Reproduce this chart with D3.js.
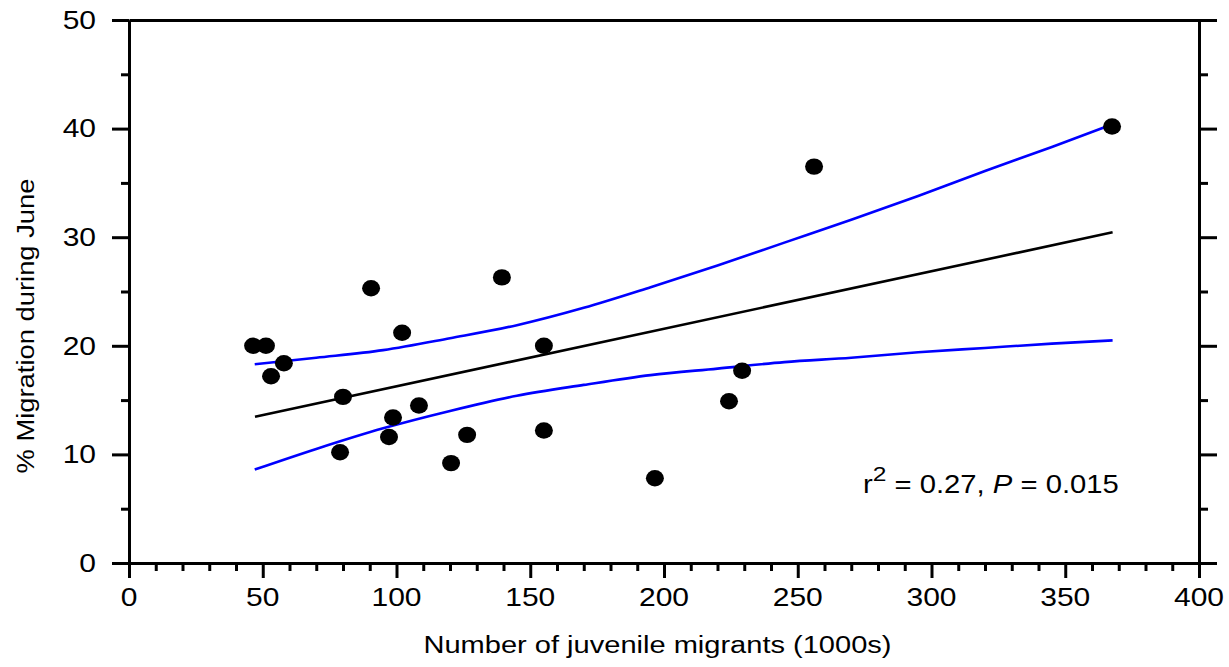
<!DOCTYPE html>
<html><head><meta charset="utf-8">
<script src="https://cdn.jsdelivr.net/npm/d3@7"></script>
<style>
body{margin:0;background:#fff;}
svg{display:block;}
text{font-family:"Liberation Sans",Arial,sans-serif;fill:#000;}
</style>
</head><body>
<svg id="c" width="1229" height="667"></svg>
<script>
// ---- data ----
const migrants = [46.4,51.2,53.1,57.9,78.9,80.0,90.5,97.2,98.7,102.1,108.4,120.4,126.4,139.4,155.1,155.1,196.6,224.3,229.2,256.1,367.5];
const juneMigration = [20.0,20.0,17.2,18.4,10.2,15.3,25.3,11.6,13.4,21.2,14.5,9.2,11.8,26.3,12.2,20.0,7.8,14.9,17.7,36.5,40.2];
const fitX = [47.1, 367.7];
const fitY = [13.47, 30.45];
const ciX = [47,70,95,120,145,170,195,220,245,270,295,320,345,367.7];
const ciUpper = [18.3,18.9,19.6,20.7,21.9,23.5,25.4,27.4,29.5,31.6,33.8,36.1,38.3,40.4];
const ciLower = [8.6,10.5,12.4,14.0,15.4,16.4,17.3,17.9,18.5,18.9,19.4,19.8,20.2,20.5];
const xMajorTicks = [0,50,100,150,200,250,300,350,400];
const xMinorTicks = [10,20,30,40,60,70,80,90,110,120,130,140,160,170,180,190,210,220,230,240,260,270,280,290,310,320,330,340,360,370,380,390];
const yMajorTicks = [0,10,20,30,40,50];
const yMinorTicks = [5,15,25,35,45];
const xLabel = "Number of juvenile migrants (1000s)";
const yLabel = "% Migration during June";

const svg = d3.select("#c");
const L = 129, R = 1199, T = 20, B = 563;
const x = d3.scaleLinear().domain([0,400]).range([L,R]);
const y = d3.scaleLinear().domain([0,50]).range([B,T]);
const AW = 3, SX = 1.2;

function styleAxis(g){
  g.selectAll("path.domain").attr("stroke","#000").attr("stroke-width",AW);
  g.selectAll(".tick line").attr("stroke","#000").attr("stroke-width",AW);
  g.selectAll(".tick text").remove();
}
// left
svg.append("g").attr("transform",`translate(${L},0)`)
  .call(d3.axisLeft(y).tickValues(yMajorTicks).tickSize(17).tickSizeOuter(0)).call(styleAxis);
svg.append("g").attr("transform",`translate(${L},0)`)
  .call(d3.axisLeft(y).tickValues(yMinorTicks).tickSize(8).tickSizeOuter(0)).call(styleAxis);
// right
svg.append("g").attr("transform",`translate(${R},0)`)
  .call(d3.axisRight(y).tickValues(yMajorTicks).tickSize(18).tickSizeOuter(0)).call(styleAxis);
svg.append("g").attr("transform",`translate(${R},0)`)
  .call(d3.axisRight(y).tickValues(yMinorTicks).tickSize(9).tickSizeOuter(0)).call(styleAxis);
// bottom
svg.append("g").attr("transform",`translate(0,${B})`)
  .call(d3.axisBottom(x).tickValues(xMajorTicks).tickSize(15).tickSizeOuter(0)).call(styleAxis);
svg.append("g").attr("transform",`translate(0,${B})`)
  .call(d3.axisBottom(x).tickValues(xMinorTicks).tickSize(8).tickSizeOuter(0)).call(styleAxis);
// top
svg.append("g").attr("transform",`translate(0,${T})`)
  .call(d3.axisTop(x).tickValues([]).tickSizeOuter(0)).call(styleAxis);

// tick labels
svg.append("g").selectAll("text").data(yMajorTicks).join("text")
  .attr("transform",d=>`translate(96,${y(d)}) scale(${SX},1)`)
  .attr("text-anchor","end").attr("dy","0.355em")
  .attr("font-size",25).text(d=>d);
svg.append("g").selectAll("text").data(xMajorTicks).join("text")
  .attr("transform",d=>`translate(${x(d)},588) scale(${SX},1)`)
  .attr("text-anchor","middle").attr("dy","0.71em")
  .attr("font-size",25).text(d=>d);

// axis titles
svg.append("text").attr("transform","translate(33.5,326) rotate(-90)")
  .attr("text-anchor","middle").attr("font-size",23)
  .attr("textLength",295).attr("lengthAdjust","spacingAndGlyphs").text(yLabel);
svg.append("text").attr("x",657.5).attr("y",653.3)
  .attr("text-anchor","middle").attr("font-size",23)
  .attr("textLength",468).attr("lengthAdjust","spacingAndGlyphs").text(xLabel);

// lines
const line = d3.line().x(d=>x(d[0])).y(d=>y(d[1])).curve(d3.curveMonotoneX);
svg.append("path").datum(ciX.map((v,i)=>[v,ciUpper[i]])).attr("d",line)
  .attr("fill","none").attr("stroke","#0000ff").attr("stroke-width",2.6);
svg.append("path").datum(ciX.map((v,i)=>[v,ciLower[i]])).attr("d",line)
  .attr("fill","none").attr("stroke","#0000ff").attr("stroke-width",2.6);
svg.append("path").datum(fitX.map((v,i)=>[v,fitY[i]])).attr("d",line)
  .attr("fill","none").attr("stroke","#000").attr("stroke-width",2.6);

// points
svg.append("g").selectAll("ellipse").data(migrants.map((v,i)=>[v,juneMigration[i]])).join("ellipse")
  .attr("cx",d=>x(d[0])).attr("cy",d=>y(d[1])).attr("rx",9).attr("ry",8.2).attr("fill","#000");

// annotation
const ann = svg.append("text").attr("transform",`translate(863,493) scale(1.17,1)`).attr("font-size",25);
ann.append("tspan").text("r");
ann.append("tspan").attr("font-size",21).attr("dy",-12).text("2");
ann.append("tspan").attr("dy",12).text(" = 0.27, ");
ann.append("tspan").attr("font-style","italic").text("P");
ann.append("tspan").text(" = 0.015");
</script>
</body></html>
